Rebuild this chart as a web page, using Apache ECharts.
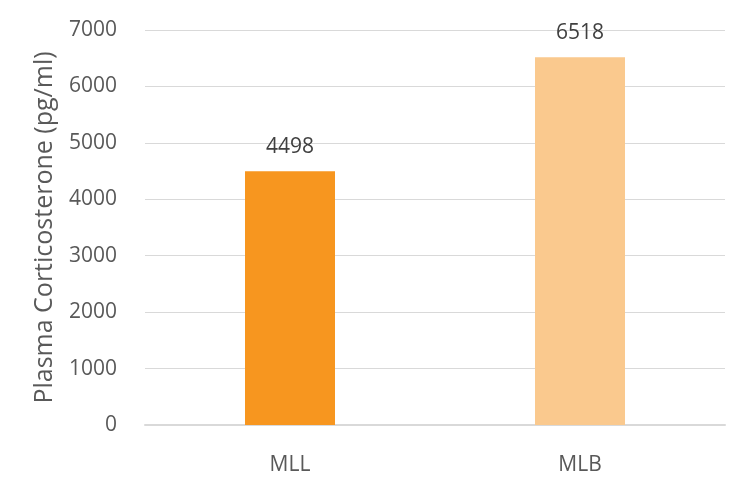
<!DOCTYPE html>
<html><head><meta charset="utf-8">
<script src="https://cdn.jsdelivr.net/npm/echarts@6/dist/echarts.min.js"></script>
<style>html,body{margin:0;padding:0;background:#fff}#c{width:750px;height:497px}</style>
</head><body><div id="c"></div>
<script>
const categories = ["MLL", "MLB"];
const values = [4498, 6518];
const barColors = ["#F7961F", "#FAC98E"];
const yTicks = [0, 1000, 2000, 3000, 4000, 5000, 6000, 7000];
const yTitle = "Plasma Corticosterone (pg/ml)";
const font = "'Open Sans', 'Noto Sans', sans-serif";
const chart = echarts.init(document.getElementById('c'), null, {renderer: 'canvas'});
chart.setOption({
  animation: false,
  grid: {left: 145, right: 25, top: 30, bottom: 72},
  xAxis: {
    type: 'category', data: categories,
    axisLine: {lineStyle: {color: '#D9D9D9', width: 2}},
    axisTick: {show: false},
    axisLabel: {color: '#595959', fontSize: 21, fontFamily: font, margin: 30}
  },
  yAxis: {
    type: 'value', min: yTicks[0], max: yTicks[yTicks.length - 1], interval: 1000,
    name: yTitle, nameLocation: 'middle', nameGap: 88,
    nameTextStyle: {color: '#595959', fontSize: 25, fontFamily: font},
    axisLine: {show: false}, axisTick: {show: false},
    axisLabel: {color: '#595959', fontSize: 21, fontFamily: font, margin: 28, formatter: v => String(v)},
    splitLine: {lineStyle: {color: '#D9D9D9', width: 1}}
  },
  series: [{
    type: 'bar', barWidth: 90,
    data: values.map((v, i) => ({value: v, itemStyle: {color: barColors[i]}})),
    label: {show: true, position: 'top', distance: 14, color: '#404040', fontSize: 21, fontFamily: font}
  }]
});
</script></body></html>
